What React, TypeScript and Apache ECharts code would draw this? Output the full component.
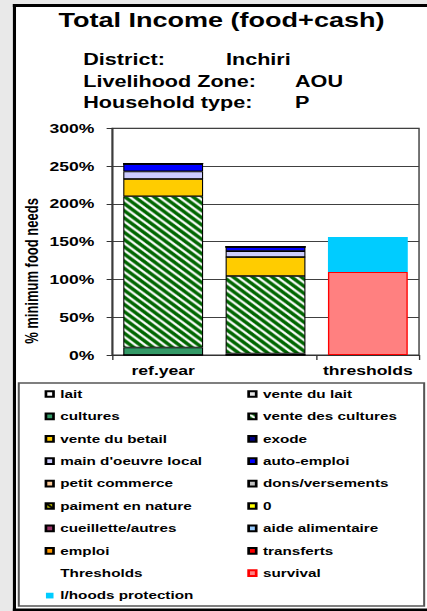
import React, { useEffect, useRef } from "react";
import * as echarts from "echarts";

// The reference is horizontally stretched; draw at a narrower width and stretch it.
const W0 = 316;
const H = 611;
const S = 427 / W0;

const FONT = "'Liberation Sans', Arial, sans-serif";

// ---------- data ----------
const categories = ["ref.year", "curr.year", "thresholds"];
const yMin = 0;
const yMax = 300;
const yInterval = 50;

const lait = [0, 0, null];
const venteDuLait = [0, 0, null];
const cultures = [10, 2, null];
const venteDesCultures = [200, 102.5, null];
const venteDuBetail = [23, 25, null];
const exode = [0, 0, null];
const mainDoeuvreLocal = [10, 8, null];
const autoEmploi = [10, 5.5, null];
const petitCommerce = [0, 0, null];
const donsVersements = [0, 0, null];
const paimentEnNature = [0, 0, null];
const zeroSeries = [0, 0, null];
const cueilletteAutres = [0, 0, null];
const aideAlimentaire = [0, 0, null];
const emploi = [0, 0, null];
const transferts = [0, 0, null];
const thresholdsLabel = [null, null, null];
const survival = [null, null, 110];
const lhoodsProtection = [null, null, 46];

const legendCol1 = [
  "lait",
  "cultures",
  "vente du betail",
  "main d'oeuvre local",
  "petit commerce",
  "paiment en nature",
  "cueillette/autres",
  "emploi",
  "Thresholds",
  "l/hoods protection",
];
const legendCol2 = [
  "vente du lait",
  "vente des cultures",
  "exode",
  "auto-emploi",
  "dons/versements",
  "0",
  "aide alimentaire",
  "transferts",
  "survival",
];

function makeHatch(bg: string, fg: string, frac: number, size: number): any {
  const N = 48;
  const c = document.createElement("canvas");
  c.width = N;
  c.height = N;
  const ctx = c.getContext("2d")!;
  ctx.fillStyle = bg;
  ctx.fillRect(0, 0, N, N);
  ctx.strokeStyle = fg;
  ctx.lineWidth = (N / Math.SQRT2) * frac;
  // "\" diagonal stripes, seamless
  for (const off of [-N, 0, N]) {
    ctx.beginPath();
    ctx.moveTo(off - 4, -4);
    ctx.lineTo(off + N + 4, N + 4);
    ctx.stroke();
  }
  return { image: c.toDataURL(), repeat: "repeat", imageWidth: size, imageHeight: size };
}

type Def = { name: string; data: (number | null)[]; color: any; border?: string; bw?: number };

function buildDefs(): Def[] {
  const greenHatch = makeHatch("#006600", "#ffffff", 0.4, 7.2);
  const yellowHatch = makeHatch("#cccc00", "#000000", 0.45, 5.66);
  return [
    { name: "lait", data: lait, color: "#ffffff" },
    { name: "vente du lait", data: venteDuLait, color: "#e6e6e6" },
    { name: "cultures", data: cultures, color: "#339966" },
    { name: "vente des cultures", data: venteDesCultures, color: greenHatch },
    { name: "vente du betail", data: venteDuBetail, color: "#ffcc00" },
    { name: "exode", data: exode, color: "#000080" },
    { name: "main d'oeuvre local", data: mainDoeuvreLocal, color: "#ccccff" },
    { name: "auto-emploi", data: autoEmploi, color: "#0000ff" },
    { name: "petit commerce", data: petitCommerce, color: "#ffcc99" },
    { name: "dons/versements", data: donsVersements, color: "#c0c0c0" },
    { name: "paiment en nature", data: paimentEnNature, color: yellowHatch },
    { name: "0", data: zeroSeries, color: "#ffff00" },
    { name: "cueillette/autres", data: cueilletteAutres, color: "#993366" },
    { name: "aide alimentaire", data: aideAlimentaire, color: "#99ccff" },
    { name: "emploi", data: emploi, color: "#ff9900" },
    { name: "transferts", data: transferts, color: "#ff0000" },
    { name: "Thresholds", data: thresholdsLabel, color: "rgba(0,0,0,0)", border: "rgba(0,0,0,0)", bw: 0 },
    { name: "survival", data: survival, color: "#ff8080", border: "#ff0000", bw: 1 },
    { name: "l/hoods protection", data: lhoodsProtection, color: "#00ccff", border: "#00ccff", bw: 0 },
  ];
}

function legendData(names: string[]) {
  return names.map((n) =>
    n === "Thresholds"
      ? { name: n, itemStyle: { color: "rgba(0,0,0,0)", borderColor: "rgba(0,0,0,0)", borderWidth: 0 } }
      : { name: n }
  );
}

const legendBase = {
  orient: "vertical" as const,
  top: 387,
  padding: 0,
  icon: "rect",
  itemWidth: 5.6,
  itemHeight: 5.7,
  itemGap: 8.4,
  selectedMode: false,
  textStyle: { fontSize: 11.3, fontWeight: "bold" as const, color: "#000", fontFamily: FONT, lineHeight: 14 },
};

function buildOption(): any {
  const font = (size: number) => `bold ${size}px ${FONT}`;
  const defs = buildDefs();
  return {
    animation: false,
    backgroundColor: "transparent",
    grid: {
      left: 82.9,
      right: W0 - 310.1,
      top: 128.3,
      bottom: H - 355,
      show: true,
      borderColor: "#333",
      borderWidth: 1,
      backgroundColor: "transparent",
      containLabel: false,
    },
    xAxis: {
      type: "category",
      data: categories,
      axisLine: { show: true, lineStyle: { color: "#333", width: 1 } },
      axisTick: { show: true, length: 5, lineStyle: { color: "#333" } },
      axisLabel: { fontSize: 13, fontWeight: "bold", color: "#000", fontFamily: FONT, margin: 9 },
    },
    yAxis: {
      type: "value",
      min: yMin,
      max: yMax,
      interval: yInterval,
      axisLine: { show: true, lineStyle: { color: "#333", width: 1 } },
      axisTick: { show: true, length: 4, lineStyle: { color: "#333" } },
      axisLabel: { formatter: "{value}%", fontSize: 13, fontWeight: "bold", color: "#000", fontFamily: FONT, margin: 13 },
      splitLine: { show: true, lineStyle: { color: "#404040", width: 1 } },
    },
    legend: [
      { ...legendBase, left: 33, data: legendData(legendCol1) },
      { ...legendBase, left: 183, data: legendData(legendCol2) },
    ],
    series: defs.map((d) => ({
      type: "bar",
      name: d.name,
      stack: "total",
      data: d.data,
      barWidth: "78%",
      itemStyle: {
        color: d.color,
        borderColor: d.border ?? "#000000",
        borderWidth: d.bw ?? 0.8,
      },
      emphasis: { disabled: true },
    })),
    graphic: [
      { type: "rect", z: -20, shape: { x: 0, y: 0, width: W0, height: H }, style: { fill: "#e9e9e9" }, silent: true },
      { type: "rect", z: -19, shape: { x: 10.7, y: 5.5, width: W0, height: 604.5 }, style: { fill: "#ffffff" }, silent: true },
      { type: "line", z: -18, shape: { x1: 10.7, y1: 4, x2: 10.7, y2: H }, style: { stroke: "#000", lineWidth: 2.3 }, silent: true },
      { type: "line", z: -18, shape: { x1: 9.5, y1: 5.5, x2: W0, y2: 5.5 }, style: { stroke: "#000", lineWidth: 3 }, silent: true },
      { type: "line", z: -18, shape: { x1: 9.5, y1: 610, x2: W0, y2: 610 }, style: { stroke: "#000", lineWidth: 3 }, silent: true },
      {
        type: "rect",
        z: -17,
        shape: { x: 13.9, y: 383, width: 300, height: 223 },
        style: { fill: "none", stroke: "#555", lineWidth: 1.5 },
        silent: true,
      },
      {
        type: "text",
        z: 10,
        x: 163.9,
        y: 20,
        style: { text: "Total Income (food+cash)", font: font(20), fill: "#000", textAlign: "center", textVerticalAlign: "middle" },
      },
      { type: "text", z: 10, x: 61.6, y: 60, style: { text: "District:", font: font(16), fill: "#000", textVerticalAlign: "middle" } },
      { type: "text", z: 10, x: 167.2, y: 60, style: { text: "Inchiri", font: font(16), fill: "#000", textVerticalAlign: "middle" } },
      { type: "text", z: 10, x: 61.6, y: 81.5, style: { text: "Livelihood Zone:", font: font(16), fill: "#000", textVerticalAlign: "middle" } },
      { type: "text", z: 10, x: 218.3, y: 81.5, style: { text: "AOU", font: font(16), fill: "#000", textVerticalAlign: "middle" } },
      { type: "text", z: 10, x: 61.6, y: 102.5, style: { text: "Household type:", font: font(16), fill: "#000", textVerticalAlign: "middle" } },
      { type: "text", z: 10, x: 218.3, y: 102.5, style: { text: "P", font: font(16), fill: "#000", textVerticalAlign: "middle" } },
      {
        type: "text",
        z: 10,
        x: 23.7,
        y: 271,
        rotation: Math.PI / 2,
        style: { text: "% minimum food needs", font: font(13), fill: "#000", textAlign: "center", textVerticalAlign: "middle" },
      },
    ],
  };
}

export default function App() {
  const ref = useRef<HTMLDivElement>(null);
  useEffect(() => {
    document.body.style.margin = "0";
    if (!ref.current) return;
    const chart = echarts.init(ref.current, null, { renderer: "svg" });
    chart.setOption(buildOption());
    return () => {
      chart.dispose();
    };
  }, []);
  return (
    <div style={{ position: "fixed", left: 0, top: 0, width: 427, height: H, overflow: "hidden", background: "#e9e9e9" }}>
      <div
        ref={ref}
        style={{ width: W0, height: H, transform: `scaleX(${S})`, transformOrigin: "0 0" }}
      />
    </div>
  );
}
